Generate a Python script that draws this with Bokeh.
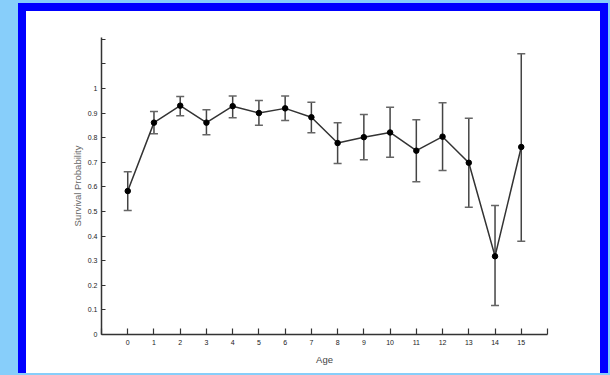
from bokeh.plotting import figure
from bokeh.models import ColumnDataSource, Whisker, TeeHead, FixedTicker, Range1d, Div
from bokeh.layouts import row, column
from bokeh.embed import file_html
from bokeh.resources import INLINE

ages = list(range(16))
survival = [0.583, 0.861, 0.930, 0.861, 0.928, 0.900, 0.919, 0.883, 0.778, 0.802,
            0.821, 0.747, 0.804, 0.698, 0.318, 0.762]
upper = [0.661, 0.906, 0.967, 0.913, 0.969, 0.951, 0.969, 0.944, 0.861, 0.894,
         0.924, 0.873, 0.942, 0.879, 0.524, 1.141]
lower = [0.504, 0.816, 0.889, 0.812, 0.881, 0.850, 0.870, 0.820, 0.695, 0.710,
         0.720, 0.621, 0.666, 0.517, 0.118, 0.379]
x_ticks = list(range(-1, 17))
y_ticks = [0, 0.1, 0.2, 0.3, 0.4, 0.5, 0.6, 0.7, 0.8, 0.9, 1.0, 1.1, 1.2]
y_tick_labels = ["0", "0.1", "0.2", "0.3", "0.4", "0.5", "0.6", "0.7", "0.8", "0.9", "1", "", ""]

src = ColumnDataSource(dict(age=ages, surv=survival, up=upper, lo=lower))

LIGHT = "#87CEFA"
BLUE = "#0000FF"

p = figure(width=574, height=362, output_backend="svg", toolbar_location=None,
           x_range=Range1d(-1, 16), y_range=Range1d(0, 1.207),
           min_border_left=75, min_border_right=53, min_border_top=26, min_border_bottom=39,
           background_fill_color="white", border_fill_color="white")
p.outline_line_color = None
p.grid.visible = False

font = "Liberation Sans"
for ax in (p.xaxis[0], p.yaxis[0]):
    ax.axis_line_color = "#333333"
    ax.axis_line_width = 1.5
    ax.major_tick_line_color = "#333333"
    ax.major_tick_line_width = 1.2
    ax.major_tick_out = 0
    ax.minor_tick_line_color = None
    ax.major_label_text_font = font
    ax.major_label_text_font_size = "7px"
    ax.major_label_text_color = "#222222"
    ax.axis_label_text_font = font
    ax.axis_label_text_font_style = "normal"

p.xaxis.ticker = FixedTicker(ticks=x_ticks)
p.xaxis.major_label_overrides = {-1: "", 16: ""}
p.xaxis.major_tick_in = 6
p.xaxis.major_label_standoff = 5
p.xaxis.axis_label = "Age"
p.xaxis.axis_label_text_font_size = "9.5px"
p.xaxis.axis_label_text_color = "#444444"
p.xaxis.axis_label_standoff = 6

p.yaxis.ticker = FixedTicker(ticks=y_ticks)
p.yaxis.major_label_overrides = {t: s for t, s in zip(y_ticks, y_tick_labels)}
p.yaxis.major_tick_in = 4
p.yaxis.major_label_standoff = 4
p.yaxis.axis_label = "Survival Probability"
p.yaxis.axis_label_text_font_size = "9.5px"
p.yaxis.axis_label_text_color = "#666666"
p.yaxis.axis_label_standoff = 2

p.add_layout(Whisker(source=src, base="age", upper="up", lower="lo",
                     line_color="#444444", line_width=1.5,
                     upper_head=TeeHead(size=8, line_color="#666666", line_width=1.5),
                     lower_head=TeeHead(size=8, line_color="#666666", line_width=1.5)))
p.line("age", "surv", source=src, line_color="#333333", line_width=1.5)
p.scatter("age", "surv", source=src, size=5.5, fill_color="black", line_color="black")


def block(w, h, c):
    return Div(text="", width=w, height=h, margin=0,
               styles={"background-color": c, "padding": "0", "margin": "0"})


inner = row(block(8, 362, BLUE), p, block(8, 362, BLUE), spacing=0, margin=0)
middle = column(block(590, 3, LIGHT), block(590, 8, BLUE), inner, block(590, 2, LIGHT),
                spacing=0, margin=0)
layout = row(block(18, 375, LIGHT), middle, block(2, 375, LIGHT), spacing=0, margin=0)

open("out.html", "w").write(file_html(layout, INLINE))
